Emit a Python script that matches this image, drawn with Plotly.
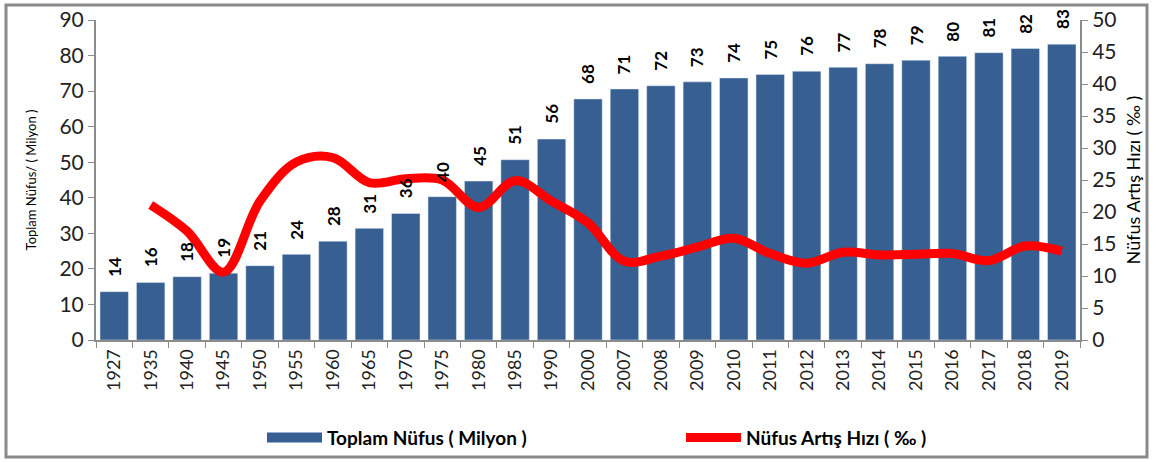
import plotly.graph_objects as go

years = ["1927","1935","1940","1945","1950","1955","1960","1965","1970","1975","1980","1985","1990",
         "2000","2007","2008","2009","2010","2011","2012","2013","2014","2015","2016","2017","2018","2019"]
population = [13.6,16.2,17.8,18.8,20.9,24.1,27.8,31.4,35.6,40.3,44.7,50.7,56.5,
              67.8,70.6,71.5,72.6,73.7,74.7,75.6,76.7,77.7,78.7,79.8,80.8,82.0,83.2]
pop_labels = ["14","16","18","19","21","24","28","31","36","40","45","51","56",
              "68","71","72","73","74","75","76","77","78","79","80","81","82","83"]
growth_years = years[1:]
growth = [21.1,17.0,10.6,21.7,27.8,28.5,24.6,25.2,25.0,20.7,24.9,21.7,18.3,
          12.3,13.1,14.5,15.9,13.5,12.0,13.7,13.3,13.4,13.5,12.4,14.7,13.9]

FONT = "Lato"
AXIS_GRAY = "#8c8c8c"
BAR_COLOR = "#375F92"
LINE_COLOR = "#FF0000"

fig = go.Figure()
fig.add_trace(go.Bar(
    x=years, y=population, name="Toplam Nüfus ( Milyon )",
    marker=dict(color=BAR_COLOR), showlegend=False, yaxis="y",
))
fig.add_trace(go.Scatter(
    x=growth_years, y=growth, name="Nüfus Artış Hızı ( ‰ )",
    mode="lines", line=dict(color=LINE_COLOR, width=9, shape="spline", smoothing=1.0),
    yaxis="y2", showlegend=False,
))
# legend proxies (no visible data)
fig.add_trace(go.Scatter(x=[years[0]], y=[None], mode="lines", name="Toplam Nüfus ( Milyon )",
                         line=dict(color=BAR_COLOR, width=10), showlegend=True, hoverinfo="skip"))
fig.add_trace(go.Scatter(x=[years[0]], y=[None], mode="lines", name="Nüfus Artış Hızı ( ‰ )",
                         line=dict(color=LINE_COLOR, width=9), showlegend=True, hoverinfo="skip"))

# value labels: category axis positions given by category index
annotations = [
    dict(x=i, y=v, xref="x", yref="y", text=f"<b>{lab}</b>", textangle=-90,
         showarrow=False, yanchor="bottom", xanchor="center", yshift=13,
         font=dict(family=FONT, size=17, color="black"))
    for i, (v, lab) in enumerate(zip(population, pop_labels))
]

fig.update_layout(
    width=1153, height=462,
    margin=dict(l=96, r=73, t=20, b=122, autoexpand=False),
    paper_bgcolor="white", plot_bgcolor="white",
    font=dict(family=FONT, color="black"),
    bargap=0.22,
    showlegend=True,
    legend=dict(orientation="h", x=(262 - 96) / 984, xanchor="left", y=-0.305, yanchor="middle",
                font=dict(family=FONT, size=19, color="black", weight="bold"),
                itemwidth=55, traceorder="normal", entrywidth=349, entrywidthmode="pixels",
                bgcolor="rgba(0,0,0,0)"),
    xaxis=dict(type="category", categoryorder="array", categoryarray=years,
               range=[-0.5, len(years) - 0.5],
               tickangle=-90, tickson="boundaries", ticks="outside",
               ticklen=6, tickcolor=AXIS_GRAY, showline=True, linecolor=AXIS_GRAY, linewidth=2,
               tickfont=dict(family=FONT, size=18, color="#222"), showgrid=False),
    yaxis=dict(range=[0, 90], dtick=10, ticks="outside", ticklen=6, tickcolor=AXIS_GRAY,
               showline=True, linecolor=AXIS_GRAY, linewidth=2, showgrid=False, zeroline=False,
               tickfont=dict(family=FONT, size=21, color="#222"),
               title=dict(text="Toplam Nüfus/ ( Milyon )", font=dict(family=FONT, size=13), standoff=20)),
    yaxis2=dict(range=[0, 50], dtick=5, overlaying="y", side="right", ticks="outside", ticklen=6,
                tickcolor=AXIS_GRAY, showline=True, linecolor=AXIS_GRAY, linewidth=2,
                showgrid=False, zeroline=False,
                tickfont=dict(family=FONT, size=21, color="#222"),
                title=dict(text="Nüfus Artış Hızı ( ‰ )", font=dict(family=FONT, size=18), standoff=12)),
    annotations=annotations,
    shapes=[dict(type="rect", xref="paper", yref="paper",
                 x0=-90 / 984, x1=1 + 67 / 984, y0=-117 / 320, y1=1 + 15 / 320,
                 line=dict(color="#8a8a8a", width=3), fillcolor="rgba(0,0,0,0)", layer="below")],
)

fig.write_html("out.html", config={"displayModeBar": False},
               post_script="document.body.style.margin='0px';")
